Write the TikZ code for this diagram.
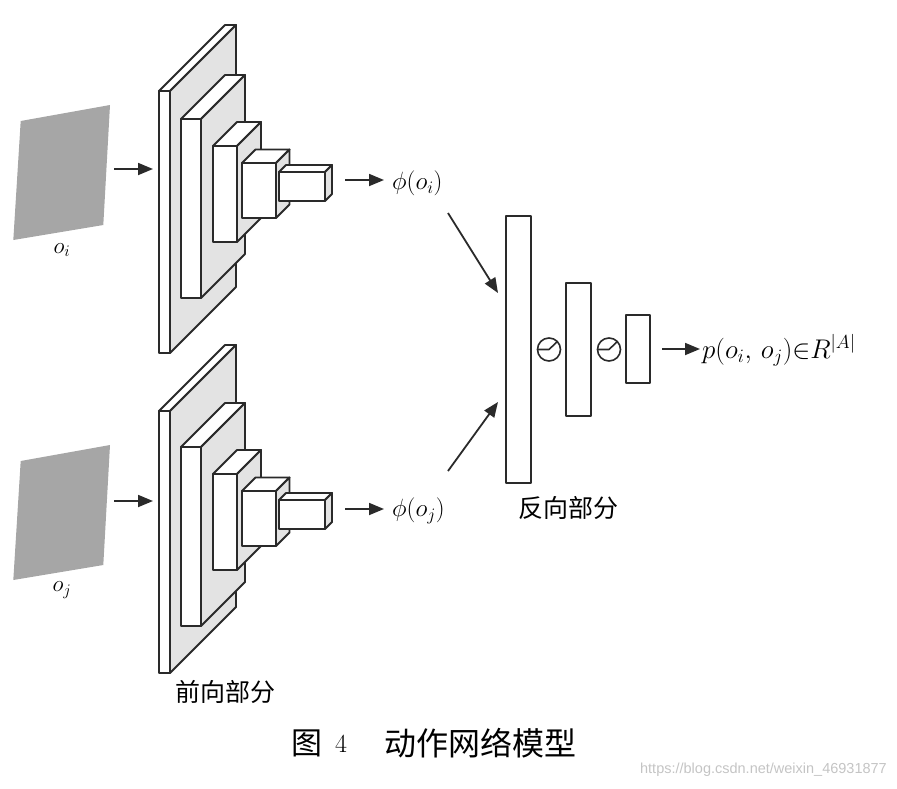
\RequirePackage{fix-cm}
\documentclass[tikz,border=0pt]{standalone}
\usepackage{fontspec}
\newfontfamily\cjk{Noto Sans CJK SC}
\newfontfamily\wmfont{Liberation Sans}
\usetikzlibrary{arrows.meta}
\definecolor{edge}{HTML}{2A2A2A}
\definecolor{slabgray}{HTML}{E3E3E3}
\definecolor{imggray}{HTML}{A6A6A6}
\definecolor{wmgray}{HTML}{C4C4C4}
\tikzset{
  boxline/.style={draw=edge, line width=1.9pt, line join=round},
  arr/.style={draw=edge, line width=1.8pt, -{Triangle[length=15pt,width=12pt]}},
  mlabel/.style={inner sep=0pt, font=\fontsize{25}{30}\selectfont},
  cnlabel/.style={inner sep=0pt, font=\fontsize{25}{30}\selectfont\cjk},
  layerbox/.style={boxline, fill=white, rectangle, inner sep=0pt},
}
% x y w h d : front face top-left (x,y), width w, height h, depth d
\newcommand\blockbox[5]{%
  \draw[boxline, fill=white] (#1,#2) rectangle ({#1+#3},{#2+#4});
  \draw[boxline, fill=white] (#1,#2) -- ({#1+#5},{#2-#5}) -- ({#1+#3+#5},{#2-#5}) -- ({#1+#3},#2) -- cycle;
  \draw[boxline, fill=slabgray] ({#1+#3},#2) -- ({#1+#3+#5},{#2-#5}) -- ({#1+#3+#5},{#2+#4-#5}) -- ({#1+#3},{#2+#4}) -- cycle;
}
\newcommand\gatesym[2]{%
  \draw[boxline, line width=1.6pt] (#1,#2) circle (11.5);
  \draw[boxline, line width=1.6pt] ({#1-11.5},#2) -- (#1,#2) -- ({#1+8.3},{#2-8});
}
\begin{document}
\begin{tikzpicture}[x=1pt,y=-1pt]
\useasboundingbox (0,0) rectangle (897,788);

% ---------- inputs ----------
\fill[imggray] (20.7,121) -- (110,105) -- (103.3,225) -- (13.3,240) -- cycle;
\fill[imggray] (20.7,461) -- (110,445) -- (103.3,565) -- (13.3,580) -- cycle;
\node[mlabel, font=\fontsize{23}{27}\selectfont] (oi) at (62,250) {$o_i$};
\node[mlabel, font=\fontsize{23}{27}\selectfont] (oj) at (62,590) {$o_j$};

% ---------- forward nets ----------
\blockbox{159}{91}{11}{262}{66}
\blockbox{181}{119}{20}{179}{44}
\blockbox{213}{146}{24}{96}{24}
\blockbox{242}{163}{34}{55}{13.5}
\blockbox{279}{172}{46}{29}{7}

\blockbox{159}{411}{11}{262}{66}
\blockbox{181}{447}{20}{179}{44}
\blockbox{213}{474}{24}{96}{24}
\blockbox{242}{491}{34}{55}{13.5}
\blockbox{279}{500}{46}{29}{7}

\coordinate (ini1) at (114,169);
\coordinate (ini2) at (153,169);
\coordinate (inj1) at (114,501);
\coordinate (inj2) at (153,501);
\draw[arr] (ini1) -- (ini2);
\draw[arr] (inj1) -- (inj2);

\coordinate (fi1) at (345,180);
\coordinate (fi2) at (384,180);
\coordinate (fj1) at (345,509);
\coordinate (fj2) at (384,509);
\draw[arr] (fi1) -- (fi2);
\draw[arr] (fj1) -- (fj2);

\node[mlabel, anchor=west] (phii) at (392,183) {$\phi(o_i)$};
\node[mlabel, anchor=west] (phij) at (392,511) {$\phi(o_j)$};

\node[cnlabel] (fwd) at (225.5,692) {前向部分};

% ---------- backward part ----------
\node[layerbox, minimum width=25pt, minimum height=267pt] (la) at (518.5,349.5) {};
\node[layerbox, minimum width=25pt, minimum height=133pt] (lb) at (578.5,349.5) {};
\node[layerbox, minimum width=24pt, minimum height=68pt] (lc) at (638,349) {};
\gatesym{549}{349.5}
\gatesym{609}{349.5}

\coordinate (ai1) at (448,213);
\coordinate (ai2) at (498,293);
\coordinate (aj1) at (448,471);
\coordinate (aj2) at (498,402);
\draw[arr] (ai1) -- (ai2);
\draw[arr] (aj1) -- (aj2);

\coordinate (out1) at (662,349);
\coordinate (out2) at (700,349);
\draw[arr] (out1) -- (out2);
\node[mlabel, anchor=west, font=\fontsize{27}{32}\selectfont] (pout) at (702,350) {$p(o_i,\,o_j){\in}R^{|A|}$};

\node[cnlabel] (bwd) at (568.5,508) {反向部分};

% ---------- caption ----------
\node[inner sep=0pt, font=\fontsize{31}{36}\selectfont\cjk] (capfig) at (307,743) {图};
\node[inner sep=0pt, font=\fontsize{26}{30}\selectfont] (capnum) at (341,744) {4};
\node[inner sep=0pt, font=\fontsize{32}{36}\selectfont\cjk, anchor=west] (captext) at (384,743) {动作网络模型};

\node[inner sep=0pt, anchor=east, text=wmgray, font=\fontsize{14.5}{17}\selectfont\wmfont] (wm) at (887,770) {https://blog.csdn.net/weixin\_46931877};
\end{tikzpicture}
\end{document}
